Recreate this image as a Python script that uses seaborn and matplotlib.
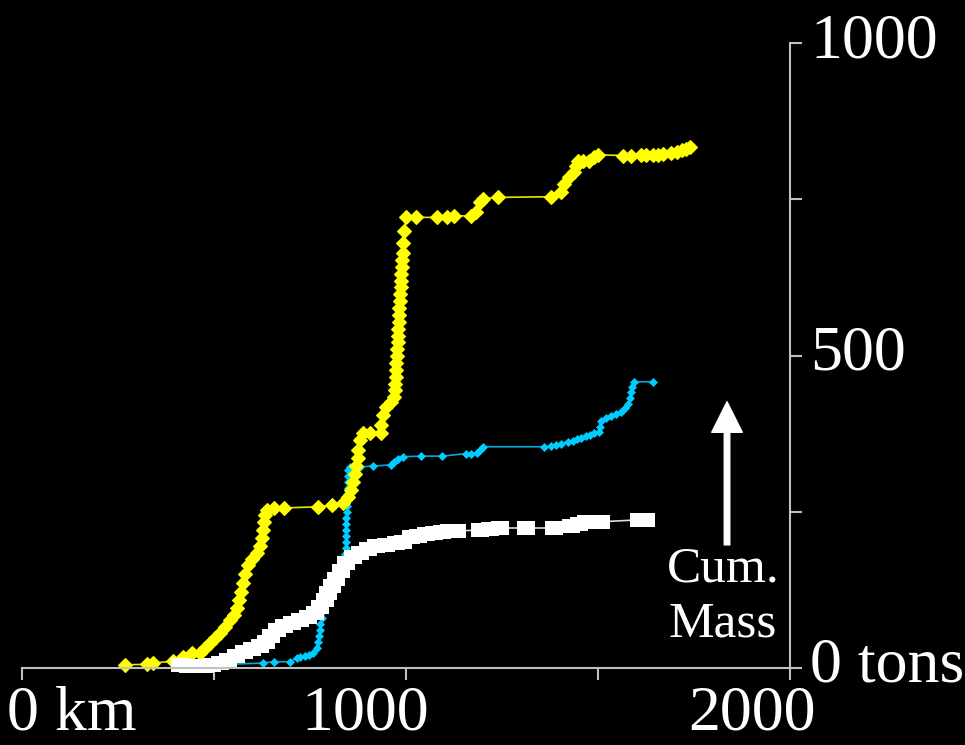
import numpy as np
import pandas as pd
import matplotlib
matplotlib.use("Agg")
import matplotlib.pyplot as plt
import matplotlib.transforms as mtransforms
import seaborn as sns

# ---- data (km, cumulative tons) ----
yellow_km = [269, 326, 342, 394, 420, 443, 464, 477, 490, 503,
             516, 529, 542, 553, 561, 566, 571, 576, 582, 589,
             600, 613, 621, 626, 628, 631, 634, 639, 655, 681,
             772, 808, 837, 850, 858, 863, 868, 871, 874, 876,
             881, 889, 907, 934, 936, 941, 947, 960, 970, 971,
             972, 973, 974, 975, 976, 977, 978, 979, 980, 981,
             982, 983, 984, 985, 986, 987, 988, 989, 990, 991,
             993, 996, 999, 1025, 1082, 1108, 1124, 1168, 1181, 1194,
             1200, 1239, 1377, 1403, 1411, 1424, 1437, 1442, 1447, 1460,
             1476, 1489, 1499, 1565, 1585, 1611, 1625, 1643, 1656, 1669,
             1690, 1705, 1718, 1729, 1739]
yellow_t = [5, 6, 8, 11, 18, 24, 24, 32, 40, 48,
            56, 66, 77, 85, 96, 109, 122, 136, 151, 165,
            175, 184, 195, 208, 221, 234, 245, 253, 256, 256,
            258, 261, 264, 274, 285, 298, 311, 323, 336, 349,
            365, 376, 376, 376, 389, 405, 418, 426, 434, 445,
            455, 466, 477, 488, 499, 510, 521, 532, 543, 554,
            565, 576, 587, 598, 609, 620, 631, 642, 653, 664,
            680, 700, 721, 721, 721, 722, 724, 723, 730, 745,
            751, 753, 754, 761, 774, 785, 794, 804, 812, 812,
            812, 817, 821, 820, 820, 821, 821, 821, 821, 823,
            824, 826, 829, 831, 833]

cyan_km = [407, 628, 655, 699, 715, 725, 738, 748, 759, 767,
           772, 774, 777, 777, 780, 780, 782, 782, 790, 798,
           806, 814, 821, 829, 834, 840, 842, 845, 845, 845,
           845, 845, 845, 846, 846, 847, 847, 850, 850, 850,
           850, 855, 881, 913, 960, 970, 980, 991, 1038, 1095,
           1155, 1168, 1186, 1194, 1200, 1359, 1377, 1390, 1403, 1421,
           1434, 1445, 1455, 1468, 1479, 1489, 1502, 1505, 1507, 1520,
           1533, 1546, 1559, 1570, 1578, 1583, 1585, 1588, 1593, 1643]
cyan_t = [3, 8, 10, 10, 16, 18, 19, 21, 24, 32,
          42, 51, 61, 70, 80, 90, 99, 109, 118, 127,
          133, 139, 146, 154, 163, 173, 183, 192, 202, 211,
          221, 231, 240, 250, 259, 269, 279, 288, 298, 307,
          317, 322, 322, 323, 325, 330, 335, 338, 339, 339,
          343, 343, 344, 349, 354, 354, 355, 357, 359, 362,
          364, 367, 368, 372, 373, 376, 378, 386, 396, 400,
          404, 407, 410, 416, 423, 432, 442, 450, 458, 458]

white_km = [412, 433, 454, 475, 495, 516, 537, 558, 579, 600,
            621, 636, 649, 665, 683, 704, 725, 746, 764, 777,
            788, 798, 808, 819, 832, 845, 861, 881, 902, 923,
            947, 973, 993, 1012, 1030, 1051, 1072, 1093, 1113, 1132,
            1194, 1220, 1246, 1312, 1385, 1429, 1450, 1468, 1507, 1606, 1625]
white_t = [5, 3, 3, 3, 5, 8, 13, 19, 26, 30,
           35, 42, 51, 61, 67, 72, 77, 82, 88, 98,
           109, 120, 131, 143, 155, 168, 178, 184, 191, 195,
           197, 200, 202, 210, 211, 215, 216, 218, 219, 219,
           221, 223, 224, 224, 224, 227, 231, 234, 234, 237, 237]

x_ticks = [0, 500, 1000, 1500, 2000]
x_labels = ["0 km", "", "1000", "", "2000"]
y_ticks = [0, 250, 500, 750, 1000]
y_labels = ["0 tons", "", "500", "", "1000"]

# ---- style ----
sns.set_theme(style="dark")
plt.rcParams.update({
    "figure.facecolor": "black",
    "axes.facecolor": "black",
    "axes.edgecolor": "#c0c0c0",
    "text.color": "white",
    "xtick.color": "#c0c0c0",
    "ytick.color": "#c0c0c0",
    "xtick.labelcolor": "white",
    "ytick.labelcolor": "white",
})
plt.rcParams["font.family"] = ["Liberation Serif", "DejaVu Serif"]

fig = plt.figure(figsize=(9.65, 7.45), dpi=100)
ax = fig.add_axes([22 / 965, 77 / 745, 768 / 965, 625 / 745])

common = dict(estimator=None, sort=False, ax=ax, clip_on=False, legend=False)
# thin connecting lines look a touch darker than the markers
sns.lineplot(x=cyan_km, y=cyan_t, color="#0aa6d6", linewidth=1.2,
             marker="D", markersize=4.3, markeredgewidth=0.5,
             markerfacecolor="#00ccff", markeredgecolor="#00ccff", **common)
sns.lineplot(x=yellow_km, y=yellow_t, color="#e6e600", linewidth=1.2,
             marker="D", markersize=7.5, markeredgewidth=0.8,
             markerfacecolor="#ffff00", markeredgecolor="#ffff00", **common)
rect = [(-1, -0.75), (1, -0.75), (1, 0.75), (-1, 0.75)]
sns.lineplot(x=white_km, y=white_t, color="#dddddd", linewidth=1.2,
             marker=rect, markersize=12.5, markeredgewidth=0,
             markerfacecolor="white", **common)

ax.set_xlim(0, 2000)
ax.set_ylim(0, 1000)
ax.grid(False)
for side in ["top", "left"]:
    ax.spines[side].set_visible(False)
for side in ["bottom", "right"]:
    ax.spines[side].set_linewidth(1.5)
    ax.spines[side].set_color("#c0c0c0")

ax.yaxis.tick_right()
ax.set_xticks(x_ticks)
ax.set_xticklabels(x_labels, fontsize=46)
ax.set_yticks(y_ticks)
ax.set_yticklabels(y_labels, fontsize=46)
ax.tick_params(axis="x", direction="out", length=8.6, width=1.5, pad=4,
               bottom=True)
ax.tick_params(axis="y", direction="out", length=8.6, width=1.5, pad=6,
               right=True, left=False)
ax.set_xlabel("")
ax.set_ylabel("")

# labels in the original sit a bit left of / above their ticks
shifts = [-0.15, 0, -0.41, 0, -0.38]
for lab, dx in zip(ax.get_xticklabels(), shifts):
    if lab.get_text() == "0 km":
        lab.set_horizontalalignment("left")
    off = mtransforms.ScaledTranslation(dx, 0, fig.dpi_scale_trans)
    lab.set_transform(lab.get_transform() + off)
for lab in ax.get_yticklabels():
    off = mtransforms.ScaledTranslation(0, 0.08, fig.dpi_scale_trans)
    lab.set_transform(lab.get_transform() + off)

# arrow + caption
ax.annotate("", xy=(1836, 426), xytext=(1836, 197),
            arrowprops=dict(facecolor="white", edgecolor="white",
                            width=4, headwidth=22, headlength=22, shrink=0))
ax.text(1826, 114, "Cum.\nMass", ha="center", va="center",
        fontsize=37, color="white", linespacing=1.22)

fig.savefig("out.png", dpi=100, facecolor="black")
